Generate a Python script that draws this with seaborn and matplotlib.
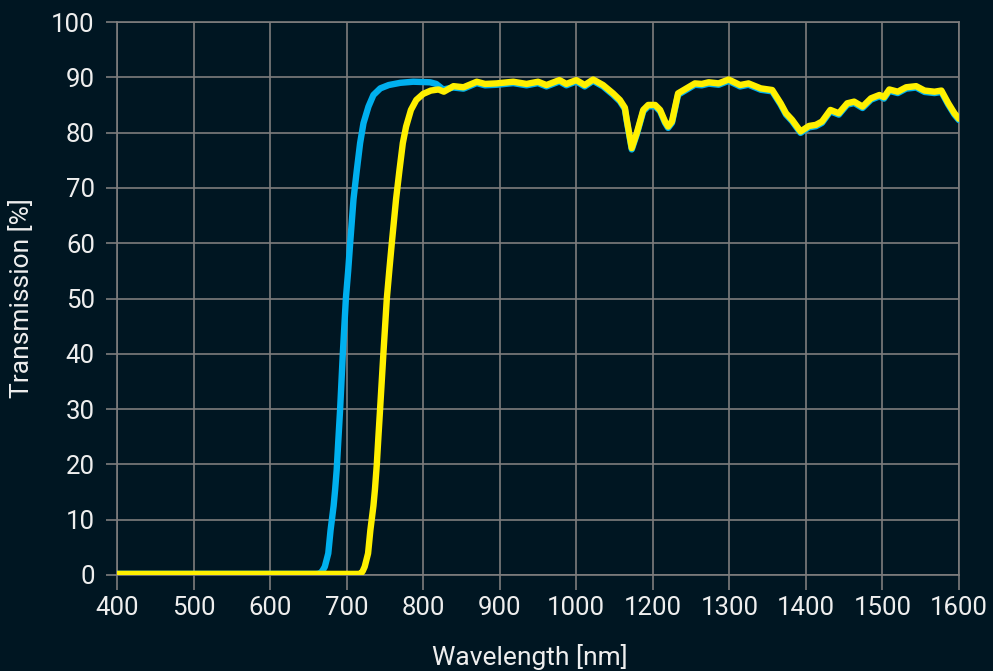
import numpy as np
import pandas as pd
import matplotlib
matplotlib.use("Agg")
import matplotlib.pyplot as plt
import seaborn as sns

# wavelength [nm] and transmission [%]
blue_wl = [400, 500, 600, 660, 664, 667, 669, 671.5, 676, 679, 683, 685, 687, 689, 691.5, 695, 699,
           702, 704.6, 709, 713.3, 717.6, 722, 728.5, 735, 744, 755, 770, 787, 809, 817, 826]
blue_tr = [0.2, 0.2, 0.2, 0.2, 0.25, 0.5, 0.9, 1.5, 3.9, 8.1, 12.5, 15.5, 19, 24, 30, 40, 50,
           55, 60, 68, 73.2, 78.1, 81.7, 84.7, 86.8, 88.0, 88.6, 89.0, 89.2, 89.1, 88.8, 87.8]

yellow_wl = [400, 500, 600, 700, 715, 718.5, 721, 723.6, 728, 731, 735, 737, 739.4, 741.5, 743.7,
             748, 752.5, 756, 759, 764.6, 769, 773.4, 777.7, 784, 791, 800, 810, 820,
             827, 839.6, 852.7, 870, 880.8, 896, 917.7, 935, 950, 961, 978, 987, 1000,
             1022, 1044, 1070, 1096, 1114, 1127, 1132, 1145, 1158, 1175, 1188, 1203,
             1209.5, 1216, 1220, 1225, 1233, 1244, 1255, 1264, 1273, 1286, 1299, 1314,
             1325, 1341, 1356, 1367, 1374, 1382, 1393, 1404, 1413, 1421, 1432, 1443,
             1454, 1463, 1474, 1485, 1496, 1502, 1509, 1520, 1531, 1544, 1555, 1568,
             1577, 1586, 1594, 1600]
yellow_tr = [0.2, 0.2, 0.2, 0.2, 0.2, 0.25, 0.7, 1.5, 3.9, 8.1, 12.5, 15.5, 20, 25, 30,
             40, 50, 55.5, 60, 68, 73.2, 78.1, 81.1, 84.1, 85.9, 87.0, 87.6, 87.8,
             87.4, 88.4, 88.2, 89.2, 88.8, 88.9, 89.2, 88.8, 89.2, 88.6, 89.5, 88.8, 89.5,
             88.6, 89.6, 88.6, 87.1, 85.9, 84.5, 82.3, 77.2, 79.9, 84.1, 85.0, 85.0,
             84.1, 82.0, 81.1, 82.0, 87.1, 88.0, 88.9, 88.8, 89.1, 88.9, 89.6, 88.6,
             88.9, 88.0, 87.7, 85.3, 83.5, 82.3, 80.2, 81.2, 81.4, 82.0, 84.1, 83.5,
             85.3, 85.6, 84.7, 86.2, 86.8, 86.4, 87.8, 87.4, 88.2, 88.4, 87.6, 87.4,
             87.6, 85.3, 83.5, 82.5]

x_ticks = [400, 500, 600, 700, 800, 900, 1000, 1200, 1300, 1400, 1500, 1600]
y_ticks = list(range(0, 101, 10))

# beyond 826 nm the blue curve sits right under the yellow one
overlap = [(w, t - 0.25) for w, t in zip(yellow_wl, yellow_tr) if w > 827]
blue_df = pd.DataFrame({"wl": blue_wl + [w for w, _ in overlap],
                        "tr": blue_tr + [t for _, t in overlap]})
yellow_df = pd.DataFrame({"wl": yellow_wl, "tr": yellow_tr})

BG = "#001622"
GRID = "#7d7d7d"
TXT = "#eeeeee"


# the 1000-1200 interval is drawn as wide as one 100 nm step
def fwd(x):
    x = np.asarray(x, dtype=float)
    return np.where(x <= 1000, x, np.where(x <= 1200, 1000 + (x - 1000) / 2, x - 100))


def inv(y):
    y = np.asarray(y, dtype=float)
    return np.where(y <= 1000, y, np.where(y <= 1100, 1000 + (y - 1000) * 2, y + 100))


sns.set_style("dark")
plt.rcParams["font.family"] = ["Roboto", "DejaVu Sans"]

fig = plt.figure(figsize=(9.93, 6.71), dpi=100, facecolor=BG)
ax = fig.add_axes([117 / 993, 1 - 575 / 671, (959 - 117) / 993, (575 - 22) / 671])
ax.set_facecolor(BG)
ax.set_xscale("function", functions=(fwd, inv))

sns.lineplot(data=blue_df, x="wl", y="tr", ax=ax, color="#00b0ef", linewidth=4.6,
             estimator=None, solid_joinstyle="round", solid_capstyle="round")
sns.lineplot(data=yellow_df, x="wl", y="tr", ax=ax, color="#fff000", linewidth=4.6,
             estimator=None, solid_joinstyle="round", solid_capstyle="round")

ax.set_xlim(400, 1600)
ax.set_ylim(0, 100)
ax.set_xticks(x_ticks)
ax.set_xticklabels([str(t) for t in x_ticks])
ax.set_yticks(y_ticks)
ax.set_yticklabels([str(t) for t in y_ticks])
ax.minorticks_off()

ax.grid(True, color=GRID, linewidth=1.2)
ax.set_axisbelow(True)
for s in ax.spines.values():
    s.set_visible(True)
    s.set_color(GRID)
    s.set_linewidth(1.2)
    s.set_zorder(0.5)

ax.tick_params(axis="x", length=11, width=1.2, color=GRID, colors=TXT, labelsize=18.5, pad=4, bottom=True)
ax.tick_params(axis="y", length=8, width=1.2, color=GRID, colors=TXT, labelsize=18.5, pad=8, left=True)
for lab in ax.get_xticklabels() + ax.get_yticklabels():
    lab.set_color(TXT)

ax.set_xlabel("Wavelength [nm]", color=TXT, fontsize=19)
ax.set_ylabel("Transmission [%]", color=TXT, fontsize=19)
ax.xaxis.set_label_coords(0.49, -0.125)
ax.yaxis.set_label_coords(-0.098, 0.5)

fig.savefig("out.png", dpi=100, facecolor=BG)
